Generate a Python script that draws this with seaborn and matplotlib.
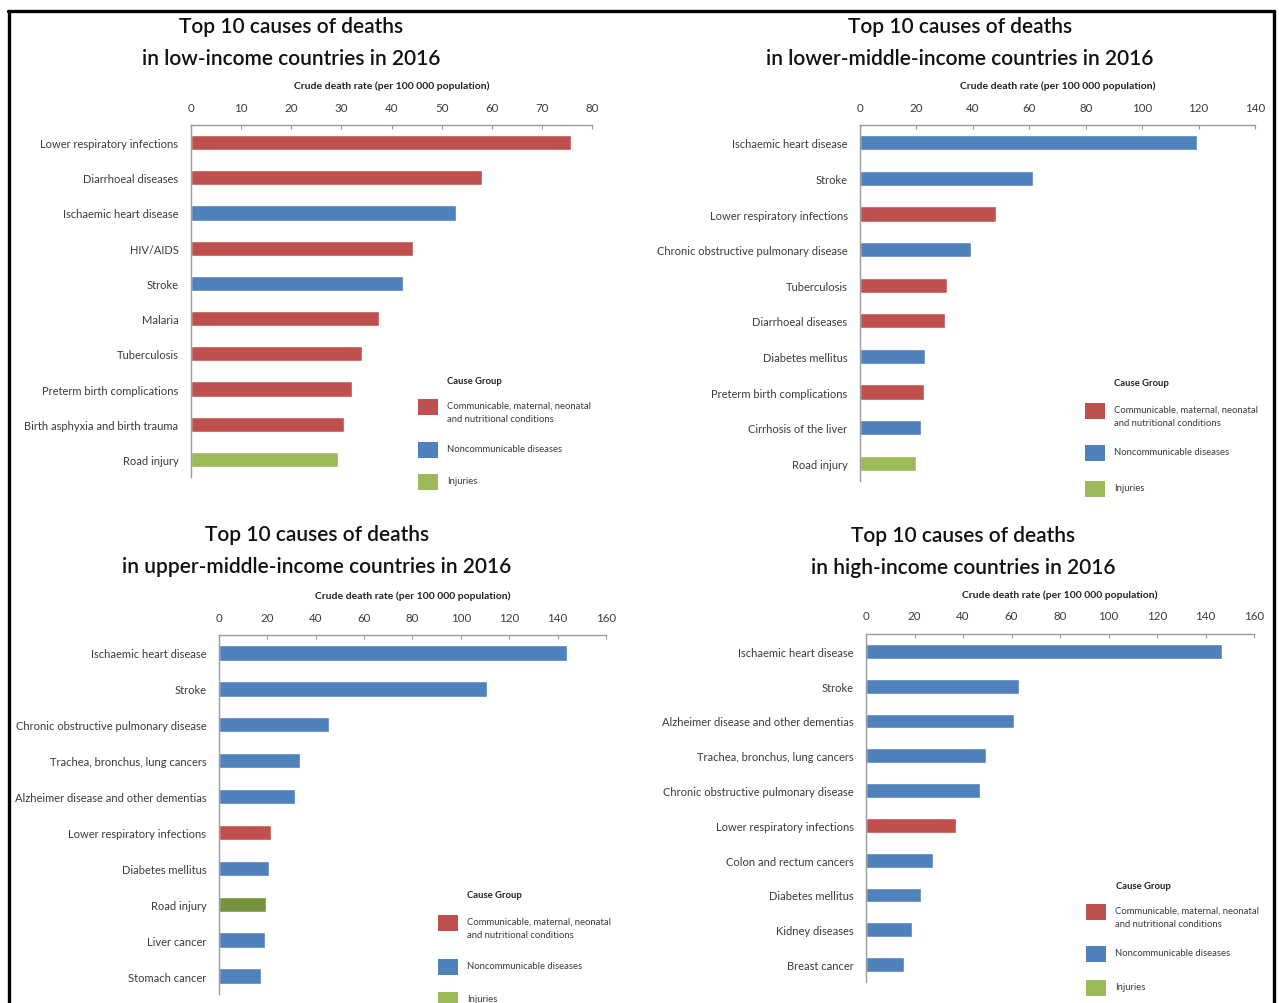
import matplotlib
matplotlib.use("Agg")
import matplotlib.pyplot as plt
import seaborn as sns
import pandas as pd
from matplotlib.patches import Rectangle
from matplotlib.lines import Line2D

sns.set_theme(style="white")
plt.rcParams['font.family'] = ['Lato', 'DejaVu Sans']

W, H = 1279, 1004

# ---------------- data ----------------
low_causes = ["Lower respiratory infections", "Diarrhoeal diseases", "Ischaemic heart disease",
              "HIV/AIDS", "Stroke", "Malaria", "Tuberculosis", "Preterm birth complications",
              "Birth asphyxia and birth trauma", "Road injury"]
low_values = [75.8, 58.1, 52.9, 44.2, 42.2, 37.6, 34.2, 32.2, 30.5, 29.4]
low_groups = ["C", "C", "N", "C", "N", "C", "C", "C", "C", "I"]

lmid_causes = ["Ischaemic heart disease", "Stroke", "Lower respiratory infections",
               "Chronic obstructive pulmonary disease", "Tuberculosis", "Diarrhoeal diseases",
               "Diabetes mellitus", "Preterm birth complications", "Cirrhosis of the liver",
               "Road injury"]
lmid_values = [119.3, 61.4, 48.2, 39.4, 30.9, 30.2, 23.0, 22.7, 21.7, 19.9]
lmid_groups = ["N", "N", "C", "N", "C", "C", "N", "C", "N", "I"]

umid_causes = ["Ischaemic heart disease", "Stroke", "Chronic obstructive pulmonary disease",
               "Trachea, bronchus, lung cancers", "Alzheimer disease and other dementias",
               "Lower respiratory infections", "Diabetes mellitus", "Road injury",
               "Liver cancer", "Stomach cancer"]
umid_values = [143.7, 110.8, 45.5, 33.3, 31.3, 21.7, 20.5, 19.5, 19.2, 17.2]
umid_groups = ["N", "N", "N", "N", "N", "C", "N", "I", "N", "N"]

high_causes = ["Ischaemic heart disease", "Stroke", "Alzheimer disease and other dementias",
               "Trachea, bronchus, lung cancers", "Chronic obstructive pulmonary disease",
               "Lower respiratory infections", "Colon and rectum cancers", "Diabetes mellitus",
               "Kidney diseases", "Breast cancer"]
high_values = [146.9, 63.0, 60.9, 49.4, 47.2, 37.1, 27.7, 22.8, 18.8, 15.8]
high_groups = ["N", "N", "N", "N", "N", "C", "N", "N", "N", "N"]

titles = ["Top 10 causes of deaths\nin low-income countries in 2016",
          "Top 10 causes of deaths\nin lower-middle-income countries in 2016",
          "Top 10 causes of deaths\nin upper-middle-income countries in 2016",
          "Top 10 causes of deaths\nin high-income countries in 2016"]
xmax_list = [80, 140, 160, 160]
xstep_list = [10, 20, 20, 20]

legend_labels = ["Communicable, maternal, neonatal\nand nutritional conditions",
                 "Noncommunicable diseases", "Injuries"]
xlabel_text = "Crude death rate (per 100 000 population)"

# ---------------- styles ----------------
RED, BLUE, GREEN, DKGREEN = "#C0504D", "#4F81BD", "#9BBB59", "#76923C"
pal_default = {"C": RED, "N": BLUE, "I": GREEN}
pal_umid = {"C": RED, "N": BLUE, "I": DKGREEN}
legend_colors = [RED, BLUE, GREEN]
TXT = "#3a3a3a"
AX = "#9a9a9a"

fig = plt.figure(figsize=(W / 100, H / 100), dpi=100)
fig.patch.set_facecolor("white")

def px(x0, ytop, x1, ybot):
    return [x0 / W, 1 - ybot / H, (x1 - x0) / W, (ybot - ytop) / H]

panels = [
    dict(causes=low_causes, values=low_values, groups=low_groups, pal=pal_default,
         rect=px(191, 126, 592, 478), title_xy=(291, 27, 59),
         leg_x=418, leg_y=[400, 443, 475], legt=(447, 381)),
    dict(causes=lmid_causes, values=lmid_values, groups=lmid_groups, pal=pal_default,
         rect=px(860, 126, 1255, 482), title_xy=(960, 27, 59),
         leg_x=1085, leg_y=[404, 446, 482], legt=(1114, 384)),
    dict(causes=umid_causes, values=umid_values, groups=umid_groups, pal=pal_umid,
         rect=px(219, 636, 606, 995), title_xy=(317, 535, 567),
         leg_x=438, leg_y=[916, 960, 993], legt=(467, 896)),
    dict(causes=high_causes, values=high_values, groups=high_groups, pal=pal_default,
         rect=px(866, 635, 1254, 983), title_xy=(963, 536, 568),
         leg_x=1086, leg_y=[905, 947, 981], legt=(1116, 887)),
]

for i, p in enumerate(panels):
    ax = fig.add_axes(p["rect"])
    df = pd.DataFrame({"cause": p["causes"], "value": p["values"], "group": p["groups"]})
    sns.barplot(data=df, x="value", y="cause", hue="group", palette=p["pal"],
                dodge=False, width=0.43, saturation=1, legend=False, ax=ax, orient="h")
    xmax = xmax_list[i]
    ax.set_xlim(0, xmax)
    ax.set_xticks(range(0, xmax + 1, xstep_list[i]))
    ax.set_ylim(9.5, -0.5)
    ax.xaxis.tick_top()
    ax.xaxis.set_label_position("top")
    ax.set_xlabel(xlabel_text, fontsize=7.5, fontweight="bold", color="#222222", labelpad=10)
    ax.set_ylabel("")
    for s in ["right", "bottom"]:
        ax.spines[s].set_visible(False)
    for s in ["top", "left"]:
        ax.spines[s].set_color(AX)
        ax.spines[s].set_linewidth(1.0)
    ax.tick_params(axis="x", which="major", direction="in", length=3, width=0.8,
                   color=AX, labelsize=8.3, labelcolor=TXT, pad=9)
    ax.tick_params(axis="y", which="major", length=0, labelsize=8, labelcolor=TXT, pad=9)
    ax.set_yticks([k - 0.5 for k in range(11)], minor=True)
    ax.tick_params(axis="y", which="minor", direction="out", length=4, width=0.8, color=AX)
    ax.set_facecolor("white")

    # two-line title
    tx, ty1, ty2 = p["title_xy"]
    l1, l2 = titles[i].split("\n")
    fig.text(tx / W, 1 - ty1 / H, l1, ha="center", va="center",
             fontsize=15, color="#111111", fontweight="semibold")
    fig.text(tx / W, 1 - ty2 / H, l2, ha="center", va="center",
             fontsize=15, color="#111111", fontweight="semibold")

    # legend (Cause Group)
    fig.text(p["legt"][0] / W, 1 - p["legt"][1] / H, "Cause Group", ha="left", va="center",
             fontsize=6.8, fontweight="bold", color="#222222")
    lx = p["leg_x"]
    for c, lab, ytop in zip(legend_colors, legend_labels, p["leg_y"]):
        fig.add_artist(Rectangle((lx / W, 1 - (ytop + 16) / H), 20 / W, 16 / H,
                                 transform=fig.transFigure, facecolor=c, edgecolor="none"))
        fig.text((lx + 29) / W, 1 - (ytop + 2) / H, lab, ha="left", va="top",
                 fontsize=6.8, color=TXT, linespacing=1.55)

# outer black frame
lw = 2.4
fig.add_artist(Line2D([7.5 / W, 1274 / W], [1 - 11.5 / H, 1 - 11.5 / H], transform=fig.transFigure,
                      color="black", linewidth=lw))
fig.add_artist(Line2D([8.5 / W, 8.5 / W], [0, 1 - 11.5 / H], transform=fig.transFigure,
                      color="black", linewidth=lw))
fig.add_artist(Line2D([1273.5 / W, 1273.5 / W], [0, 1 - 11.5 / H], transform=fig.transFigure,
                      color="black", linewidth=lw))

fig.savefig("out.png", dpi=100, facecolor="white")
